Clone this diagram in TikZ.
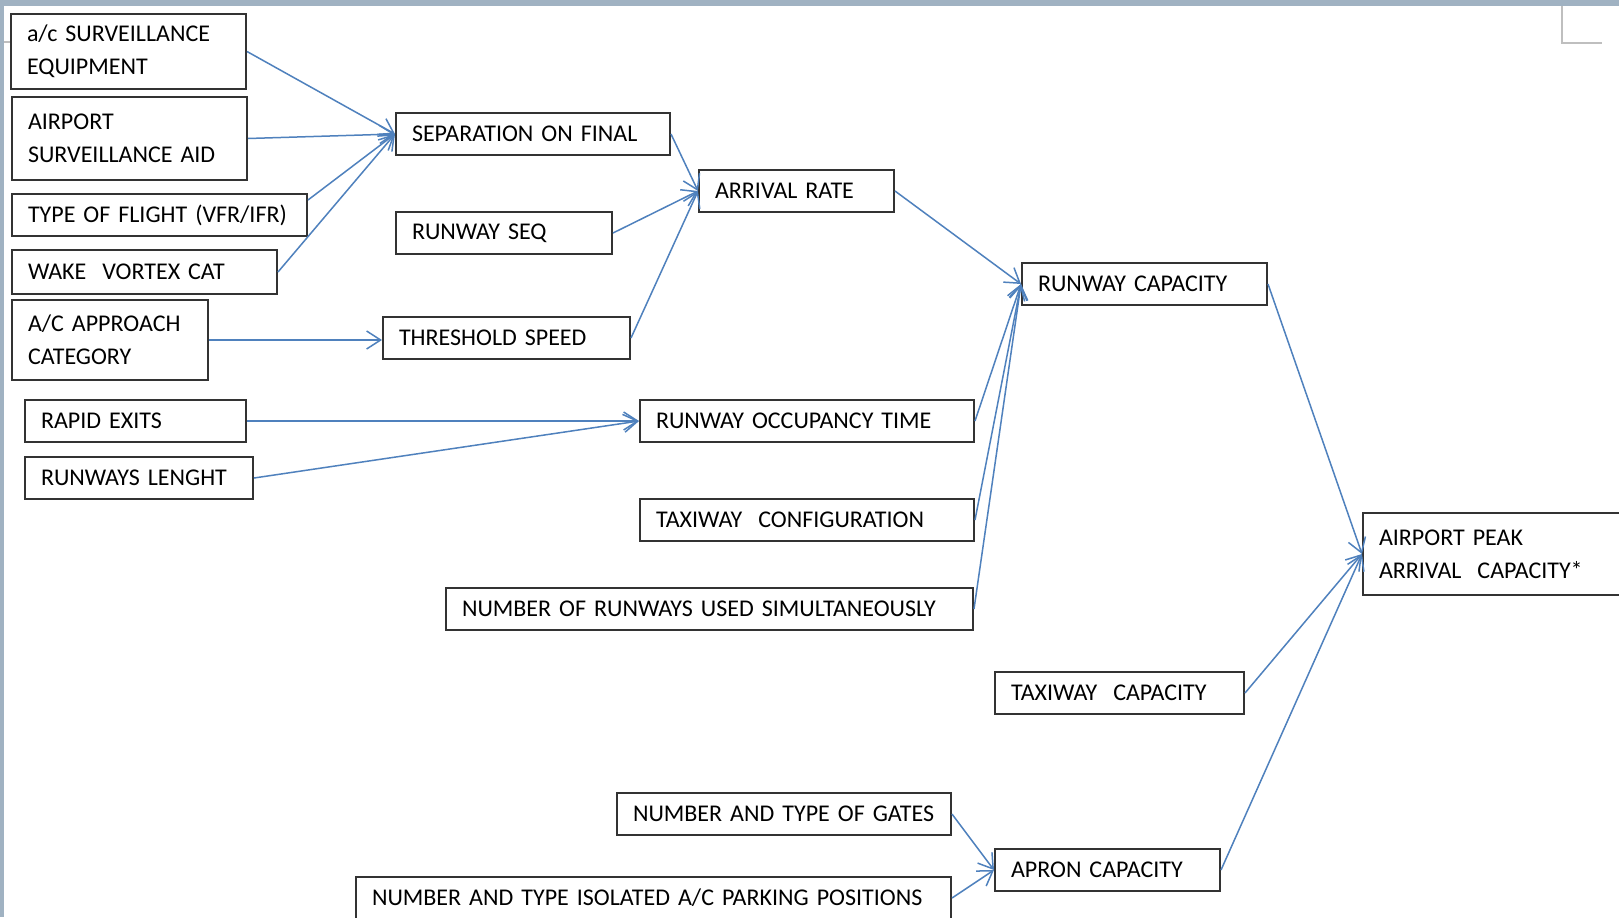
\documentclass[tikz,border=0pt]{standalone}
\usepackage{fontspec}
\setmainfont{Carlito}
\usepackage{tikz}
\usetikzlibrary{arrows.meta,positioning}
\definecolor{linkblue}{RGB}{79,129,189}
\definecolor{deskgray}{RGB}{160,178,194}

\begin{document}
\begin{tikzpicture}[x=0.5pt, y=-0.5pt,
                    box/.style={draw=black!80, line width=1pt, anchor=north west, align=left,
                                inner xsep=8pt, inner ysep=0pt, minimum height=21pt,
                                font=\fontsize{12}{16.5}\selectfont},
                    link/.style={linkblue, line width=0.75pt, -{Straight Barb[length=7pt,width=9pt]}},
                    cornermark/.style={black!25, line width=0.75pt},
                   ]

\clip (0,0) rectangle (1619,917);
\fill[white] (0,0) rectangle (1619,917);
\fill[deskgray] (0,0) rectangle (1619,6);
\fill[deskgray] (0,0) rectangle (4,917);
\draw[cornermark] (1562,6) -- (1562,43) -- (1602,43);
\draw[cornermark] (4,42) -- (10,42);

% left column
\node[box, text width=101.5pt, minimum height=37.5pt] (acsurv) at (10,13) {a/c SURVEILLANCE\\EQUIPMENT};
\node[box, text width=101.5pt, minimum height=41.5pt] (aptsurv) at (11,96) {AIRPORT\\SURVEILLANCE AID};
\node[box, text width=131.5pt] (flighttype) at (11,193) {TYPE OF FLIGHT (VFR/IFR)};
\node[box, text width=116.5pt, minimum height=22pt] (wake) at (11,249) {WAKE\ \ VORTEX CAT};
\node[box, text width=82pt, minimum height=40pt] (approach) at (11,299) {A/C APPROACH\\CATEGORY};
\node[box, text width=94.5pt] (rapid) at (24,399) {RAPID EXITS};
\node[box, text width=98pt] (rwylen) at (24,456) {RUNWAYS LENGHT};

% middle
\node[box, text width=121pt] (sep) at (395,112) {SEPARATION ON FINAL};
\node[box, text width=92pt] (rwyseq) at (395,211) {RUNWAY SEQ};
\node[box, text width=107.5pt] (thr) at (382,316) {THRESHOLD SPEED};
\node[box, text width=81.5pt] (arr) at (698,169) {ARRIVAL RATE};
\node[box, text width=151pt] (rot) at (639,399) {RUNWAY OCCUPANCY TIME};
\node[box, text width=151pt] (txconf) at (639,498) {TAXIWAY\ \ CONFIGURATION};
\node[box, text width=247.5pt] (nrwy) at (445,587) {NUMBER OF RUNWAYS USED SIMULTANEOUSLY};
\node[box, text width=151pt] (gates) at (616,792) {NUMBER AND TYPE OF GATES};
\node[box, text width=281.5pt] (parking) at (355,876) {NUMBER AND TYPE ISOLATED A/C PARKING POSITIONS};

% right
\node[box, text width=106.5pt] (rwycap) at (1021,262) {RUNWAY CAPACITY};
\node[box, text width=108.5pt] (txcap) at (994,671) {TAXIWAY\ \ CAPACITY};
\node[box, text width=96.5pt] (apron) at (994,848) {APRON CAPACITY};
\node[box, text width=184pt, minimum height=41pt] (peak) at (1362,512) {AIRPORT PEAK\\ARRIVAL\ \ CAPACITY*};

\draw[link] (acsurv.east) -- (sep.west);
\draw[link] (aptsurv.east) -- (sep.west);
\draw[link] ([yshift=-3.5pt]flighttype.north east) -- (sep.west);
\draw[link] (wake.east) -- (sep.west);
\draw[link] (approach.east) -- (approach.east -| thr.west);

\draw[link] (sep.east) -- (arr.west);
\draw[link] (rwyseq.east) -- (arr.west);
\draw[link] (thr.east) -- (arr.west);

\draw[link] (rapid.east) -- (rapid.east -| rot.west);
\draw[link] (rwylen.east) -- (rot.west);

\draw[link] (arr.east) -- (rwycap.west);
\draw[link] (rot.east) -- (rwycap.west);
\draw[link] (txconf.east) -- (rwycap.west);
\draw[link] (nrwy.east) -- (rwycap.west);

\draw[link] (gates.east) -- (apron.west);
\draw[link] (parking.east) -- (apron.west);

\draw[link] (rwycap.east) -- (peak.west);
\draw[link] (txcap.east) -- (peak.west);
\draw[link] (apron.east) -- (peak.west);

\end{tikzpicture}
\end{document}
